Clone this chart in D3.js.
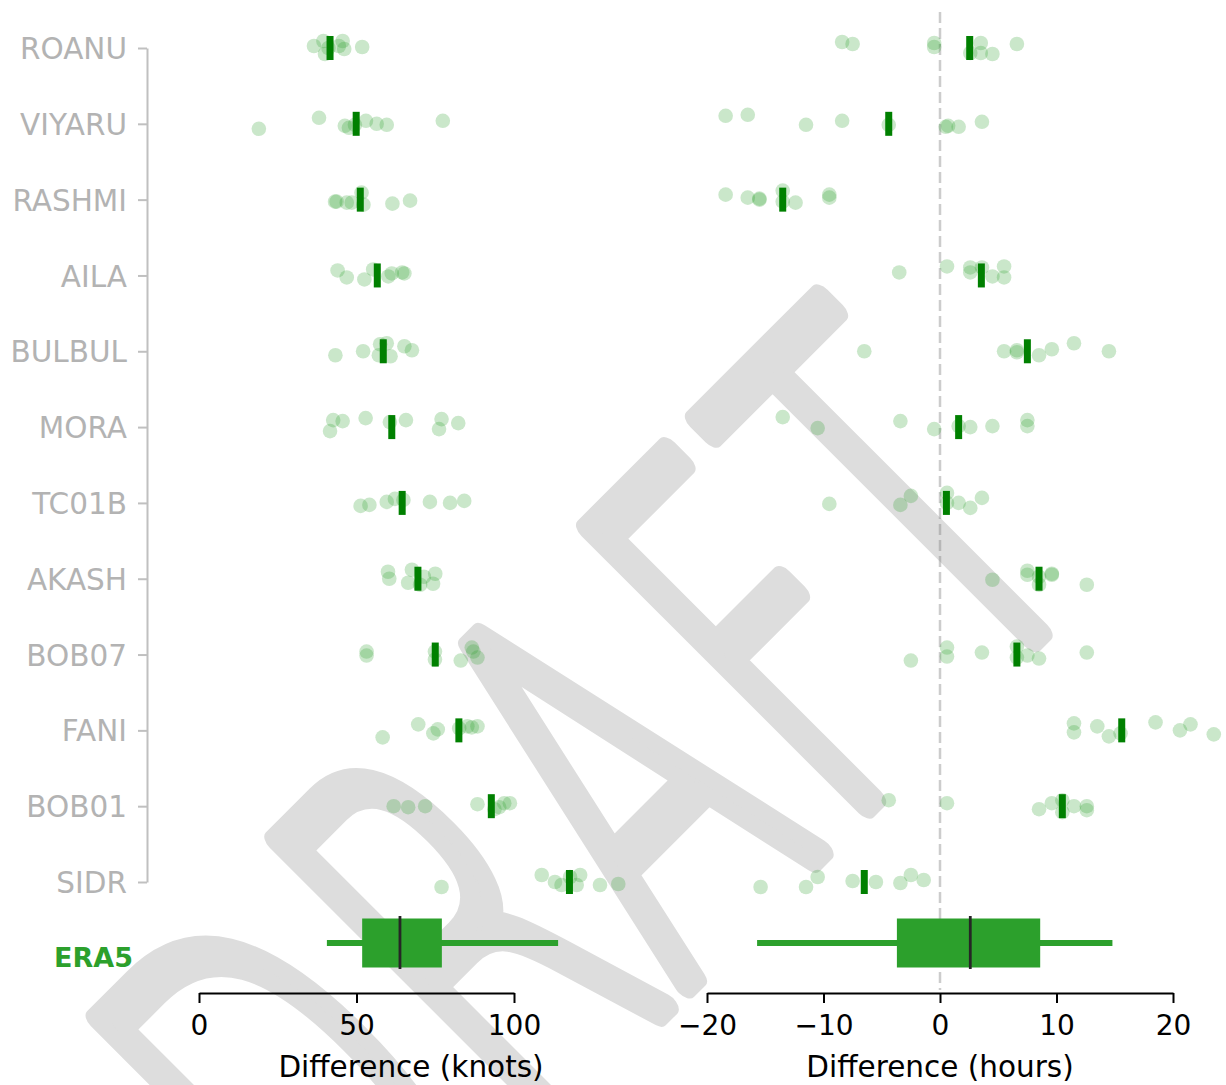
<!DOCTYPE html>
<html>
<head>
<meta charset="utf-8">
<script src="https://cdn.jsdelivr.net/npm/d3@7"></script>
<style>
  body { margin: 0; background: #fff; }
  svg { display: block; font-family: "DejaVu Sans", sans-serif; }
</style>
</head>
<body>
<svg id="chart" width="1226" height="1085"></svg>
<script>
// Cyclones, ordered by median intensity difference
const storms = ["ROANU", "VIYARU", "RASHMI", "AILA", "BULBUL", "MORA",
                "TC01B", "AKASH", "BOB07", "FANI", "BOB01", "SIDR"];

// Intensity difference (knots) per ensemble member
const knots = [
  [36.5, 39.5, 40.0, 41.1, 44.4, 45.6, 46.1, 51.8],
  [19.0, 38.1, 46.3, 47.6, 49.5, 53.0, 56.4, 59.6, 77.4],
  [43.2, 43.7, 46.9, 48.5, 51.6, 52.2, 61.4, 67.0],
  [44.0, 46.9, 52.5, 55.3, 60.1, 61.2, 64.5, 65.2],
  [43.3, 52.1, 57.1, 57.5, 59.6, 60.8, 65.2, 67.6],
  [41.6, 42.6, 45.6, 52.9, 60.6, 65.7, 76.2, 77.0, 82.3],
  [51.3, 54.1, 59.6, 62.2, 64.9, 73.3, 79.7, 84.2],
  [60.0, 60.4, 66.4, 67.6, 70.2, 71.4, 74.3, 75.0],
  [53.2, 53.2, 74.9, 74.9, 83.1, 86.6, 87.1, 88.4],
  [58.3, 69.6, 74.4, 75.8, 82.6, 85.2, 86.6, 88.4],
  [61.8, 66.4, 71.8, 88.4, 93.8, 95.3, 96.9, 98.7],
  [77.0, 108.8, 113.0, 115.1, 117.8, 119.9, 121.0, 127.3, 133.1]
];
// Vertical strip jitter of each knots point (-1 .. 1)
const knotsJitter = [
  [-0.2, -0.7, 0.6, 0.0, -0.2, -0.7, 0.1, -0.1],
  [0.5, -0.6, 0.2, 0.4, 0.1, -0.3, 0.0, 0.1, -0.3],
  [0.2, 0.2, 0.3, 0.3, -0.7, 0.5, 0.4, 0.1],
  [-0.5, 0.2, 0.4, -0.6, 0.1, -0.2, -0.3, -0.2],
  [0.4, 0.0, 0.4, -0.7, -0.8, 0.5, -0.5, -0.1],
  [0.4, -0.7, -0.6, -0.9, -0.5, -0.7, 0.2, -0.8, -0.4],
  [0.3, 0.2, -0.1, -0.4, -0.3, -0.1, 0.0, -0.2],
  [-0.7, 0.0, 0.4, -0.9, 0.6, -0.2, 0.5, -0.5],
  [-0.3, 0.1, -0.3, 0.5, 0.6, -0.7, -0.3, 0.3],
  [0.7, -0.6, 0.3, -0.1, -0.2, -0.4, -0.3, -0.4],
  [0.0, 0.1, 0.0, -0.2, 0.3, 0.1, -0.3, -0.3],
  [0.5, -0.7, 0.0, 0.3, -0.5, 0.3, -0.7, 0.3, 0.2]
];
const knotsMedian = [41.6, 49.9, 51.2, 56.6, 58.5, 61.2, 64.5, 69.5, 75.0, 82.5, 92.8, 117.6];

// Timing difference (hours) per ensemble member
const hours = [
  [-8.4, -7.5, -0.5, -0.5, 2.6, 3.5, 3.5, 4.5, 6.6],
  [-18.4, -16.5, -11.5, -8.4, -4.4, 0.5, 0.7, 1.6, 3.6],
  [-18.4, -16.5, -15.5, -15.5, -13.5, -13.5, -12.4, -9.5, -9.5],
  [-3.5, 0.6, 2.6, 2.6, 3.6, 4.5, 5.5, 5.5],
  [-6.5, 5.5, 6.6, 6.6, 8.5, 9.6, 11.5, 14.5],
  [-13.5, -10.5, -3.4, -0.5, 1.6, 2.6, 4.5, 7.5, 7.5],
  [-9.5, -3.4, -2.5, 0.6, 0.6, 1.6, 2.6, 3.6],
  [4.5, 7.5, 7.5, 8.5, 8.5, 9.6, 9.6, 12.6],
  [-2.5, 0.6, 0.6, 3.6, 6.6, 6.6, 7.5, 8.5, 12.6],
  [11.5, 11.5, 13.5, 14.5, 15.5, 18.5, 20.6, 21.5, 23.5],
  [-4.4, 0.6, 8.5, 9.6, 10.5, 10.5, 11.5, 12.6, 12.6],
  [-15.4, -11.5, -10.5, -7.5, -5.5, -3.4, -2.5, -1.4]
];
const hoursJitter = [
  [-0.6, -0.4, -0.5, -0.1, 0.5, -0.5, 0.5, 0.6, -0.4],
  [-0.8, -0.9, 0.1, -0.3, 0.1, 0.3, 0.2, 0.3, -0.2],
  [-0.5, -0.2, -0.1, 0.0, -0.9, 0.2, 0.3, -0.5, -0.2],
  [-0.3, -0.9, -0.8, -0.3, -0.8, 0.1, -0.9, 0.2],
  [0.0, 0.0, -0.1, 0.1, 0.4, -0.2, -0.8, 0.0],
  [-1.0, 0.1, -0.6, 0.2, -0.1, 0.0, -0.1, -0.7, -0.1],
  [0.1, 0.2, -0.7, -1.0, 0.0, 0.0, 0.5, -0.5],
  [0.1, -0.8, -0.4, 0.6, -0.2, -0.5, -0.4, 0.6],
  [0.6, -0.7, 0.2, -0.2, -0.8, 0.3, 0.1, 0.4, -0.2],
  [-0.7, 0.2, -0.4, 0.6, 0.3, -0.8, 0.0, -0.6, 0.4],
  [-0.6, -0.3, 0.3, -0.3, -0.6, 0.6, 0.0, 0.0, 0.4],
  [0.5, 0.5, -0.5, -0.1, 0.0, 0.1, -0.7, -0.2]
];
const hoursMedian = [2.55, -4.4, -13.5, 3.55, 7.5, 1.6, 0.55, 8.5, 6.6, 15.6, 10.5, -6.5];

// ERA5 summary: whisker low, Q1, median, Q3, whisker high
const era5Knots = [40.6, 51.8, 63.8, 77.1, 114.0];
const era5Hours = [-15.7, -3.7, 2.6, 8.6, 14.8];

const knotTicks = [0, 50, 100];
const hourTicks = [-20, -10, 0, 10, 20];
const knotsTitle = "Difference (knots)";
const hoursTitle = "Difference (hours)";
const refLabel = "ERA5";
const watermark = "DRAFT";

// ---- layout & styles ----
const svg = d3.select("#chart");
const dotColor = "#2ca02c", medColor = "#008000", refColor = "#2ca02c";
const labelGray = "#b3b3b3", spineGray = "#c0c0c0";
const jitterAmp = 10, dotR = 7.3;
const axisY = 993, refY = 943;

const xK = d3.scaleLinear().domain([0, 100]).range([199, 514]);
const xH = d3.scaleLinear().domain([-20, 20]).range([707, 1173]);
const y = d3.scalePoint().domain(storms).range([48, 882]);

svg.append("rect").attr("width", 1226).attr("height", 1085).attr("fill", "#fff");

// watermark behind everything: thin glyphs with a wide round stroke
svg.append("text")
  .attr("transform", "translate(729,943) rotate(-45) scale(0.585,1)")
  .attr("text-anchor", "middle")
  .style("font-size", "538px")
  .style("font-weight", 200)
  .style("letter-spacing", "17px")
  .attr("fill", "#dddddd")
  .attr("stroke", "#dddddd")
  .attr("stroke-width", 22)
  .attr("stroke-linejoin", "round")
  .attr("stroke-linecap", "round")
  .attr("vector-effect", "non-scaling-stroke")
  .text(watermark);

// zero reference for timing
svg.append("line")
  .attr("x1", xH(0)).attr("x2", xH(0))
  .attr("y1", 12).attr("y2", 990)
  .attr("stroke", "#808080").attr("stroke-opacity", 0.4)
  .attr("stroke-width", 2.5).attr("stroke-dasharray", "11,5");

// strip of members + median tick for one panel
function strip(x, vals, jit, meds) {
  const g = svg.append("g");
  storms.forEach((s, i) => {
    g.selectAll(null).data(vals[i].map((v, k) => ({ v, j: jit[i][k] })))
      .join("circle")
      .attr("cx", d => x(d.v))
      .attr("cy", d => y(s) + d.j * jitterAmp)
      .attr("r", dotR)
      .attr("fill", dotColor).attr("fill-opacity", 0.25);
  });
  g.selectAll("rect.med").data(meds).join("rect")
    .attr("class", "med")
    .attr("x", d => x(d) - 3.5)
    .attr("y", (d, i) => y(storms[i]) - 12)
    .attr("width", 7).attr("height", 24)
    .attr("fill", medColor);
}
strip(xK, knots, knotsJitter, knotsMedian);
strip(xH, hours, hoursJitter, hoursMedian);

// ERA5 box summaries
function box(x, st) {
  const g = svg.append("g");
  g.append("rect")
    .attr("x", x(st[0])).attr("y", refY - 3)
    .attr("width", x(st[4]) - x(st[0])).attr("height", 6)
    .attr("fill", refColor);
  g.append("rect")
    .attr("x", x(st[1])).attr("y", refY - 24.5)
    .attr("width", x(st[3]) - x(st[1])).attr("height", 49)
    .attr("fill", refColor);
  g.append("line")
    .attr("x1", x(st[2])).attr("x2", x(st[2]))
    .attr("y1", refY - 27).attr("y2", refY + 26)
    .attr("stroke", "#262626").attr("stroke-width", 2.8);
}
box(xK, era5Knots);
box(xH, era5Hours);

// y axis with storm names
const yAxis = svg.append("g").attr("transform", "translate(147,0)")
  .call(d3.axisLeft(y).tickSize(9).tickSizeOuter(0).tickPadding(11));
yAxis.select(".domain").attr("stroke", spineGray).attr("stroke-width", 2);
yAxis.selectAll(".tick line").attr("stroke", spineGray).attr("stroke-width", 2);
yAxis.selectAll(".tick text")
  .attr("fill", labelGray)
  .style("font-size", "29.5px")
  .style("font-family", "DejaVu Sans, sans-serif")
  .attr("dy", "0.36em");

svg.append("text")
  .attr("x", 133).attr("y", refY + 14)
  .attr("dy", "0.36em")
  .attr("text-anchor", "end")
  .attr("fill", refColor)
  .style("font-size", "27px").style("font-weight", "bold")
  .text(refLabel);

// bottom axes
function bottomAxis(x, ticks, title, cx) {
  const g = svg.append("g").attr("transform", `translate(0,${axisY})`)
    .call(d3.axisBottom(x).tickValues(ticks).tickSize(10).tickSizeOuter(0).tickPadding(12));
  g.select(".domain").attr("stroke", "#000").attr("stroke-width", 2);
  g.selectAll(".tick line").attr("stroke", "#000").attr("stroke-width", 2);
  g.selectAll(".tick text").attr("fill", "#000")
    .style("font-size", "28px").style("font-family", "DejaVu Sans, sans-serif");
  svg.append("text")
    .attr("x", cx).attr("y", 1077)
    .attr("text-anchor", "middle")
    .attr("fill", "#000")
    .style("font-size", "29.5px")
    .text(title);
}
bottomAxis(xK, knotTicks, knotsTitle, 411);
bottomAxis(xH, hourTicks, hoursTitle, 940);
</script>
</body>
</html>
